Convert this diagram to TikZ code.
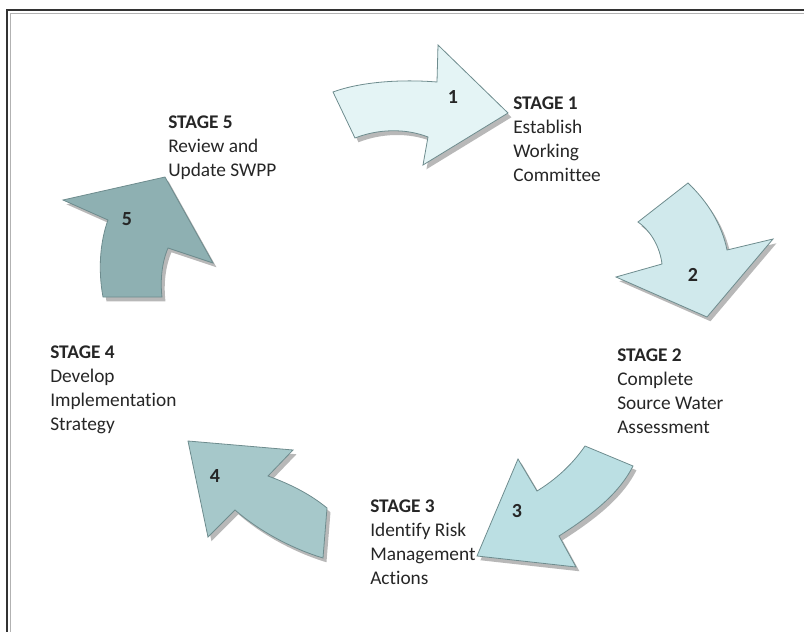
\documentclass[tikz,border=0pt]{standalone}
\usepackage{fontspec}
\setmainfont{Carlito}[Ligatures=NoCommon]
\definecolor{arrowedge}{HTML}{6E8C8E}
\definecolor{fillone}{HTML}{E4F4F5}
\definecolor{filltwo}{HTML}{D0E9EC}
\definecolor{fillthree}{HTML}{BBDFE3}
\definecolor{fillfour}{HTML}{A6C8CA}
\definecolor{fillfive}{HTML}{8EB0B2}
\begin{document}
\begin{tikzpicture}[x=0.75pt, y=-0.75pt,
        cyclearrow/.style = {draw = arrowedge, line width = 0.6pt, line join = miter,
            preaction = {fill = black!28, transform canvas = {shift = {(2.6pt,-3.2pt)}}}},
        stagetext/.style = {anchor = base west, align = left, inner sep = 0pt, text = black!85,
            font = \fontsize{14.5}{18}\selectfont}]
    \useasboundingbox (0,0) rectangle (804,632);
    % frame
    \draw[line width = 1.3pt, black!80] (7,632) |- (804,10);
    \draw[line width = 0.6pt, black!30] (10,632) |- (804,13);
    % arrows
    \draw[cyclearrow, fill = fillone] (333,92) .. controls (360,82) and (400,79) .. (437,82) -- (438,45)
        -- (508,113) -- (423,165) -- (428,137) .. controls (405,128) and (378,129) .. (355,138) -- cycle;
    \draw[cyclearrow, fill = filltwo] (638,222) -- (688,183) .. controls (708,202) and (722,225) .. (727,250)
        -- (773,239) -- (707,317) -- (616,277) -- (662,264) .. controls (660,248) and (652,232) .. (638,222) -- cycle;
    \draw[cyclearrow, fill = fillthree] (585,446) -- (633,466) .. controls (620,492) and (595,513) .. (559,536)
        -- (576,567) -- (477,556) -- (518,459) -- (537,491) .. controls (555,480) and (572,465) .. (585,446) -- cycle;
    \draw[cyclearrow, fill = fillfour] (188,441) -- (293,450) -- (268,476) .. controls (290,484) and (310,494) .. (327,508)
        -- (323,558) .. controls (290,548) and (258,530) .. (235,510) -- (208,537) -- cycle;
    \draw[cyclearrow, fill = fillfive] (165,177) -- (213,263) -- (168,248) .. controls (162,262) and (160,280) .. (162,297)
        -- (103,297) .. controls (98,270) and (100,242) .. (108,220) -- (63,200) -- cycle;
    % numbers
    \begin{scope}[every node/.append style = {font = \fontsize{15}{17}\selectfont\bfseries, text = black!85}]
        \foreach \n/\x/\y in {1/453/97, 2/693/275, 3/517/511, 4/215/476, 5/127/219}
            \node (num\n) at (\x,\y) {\n};
    \end{scope}
    % stage texts (base = last line)
    \node[stagetext] (stage1) at (513,181) {\textbf{STAGE 1}\\Establish\\Working\\Committee};
    \node[stagetext] (stage2) at (617,433) {\textbf{STAGE 2}\\Complete\\Source Water\\Assessment};
    \node[stagetext] (stage3) at (370,584) {\textbf{STAGE 3}\\Identify Risk\\Management\\Actions};
    \node[stagetext] (stage4) at (50,430) {\textbf{STAGE 4}\\Develop\\Implementation\\Strategy};
    \node[stagetext] (stage5) at (168,176) {\textbf{STAGE 5}\\Review and\\Update SWPP};
\end{tikzpicture}
\end{document}
